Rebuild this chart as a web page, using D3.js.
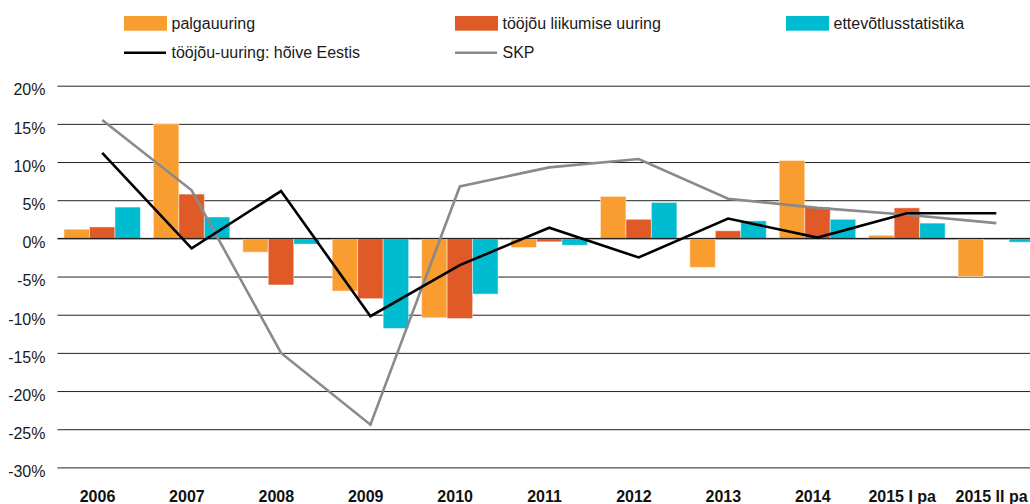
<!DOCTYPE html>
<html>
<head>
<meta charset="utf-8">
<script src="https://cdn.jsdelivr.net/npm/d3@7"></script>
<style>
  html, body { margin: 0; padding: 0; background: #fff; overflow: hidden; }
  svg { display: block; font-family: "Helvetica Neue", Helvetica, "Liberation Sans", Arial, sans-serif; }
</style>
</head>
<body>
<div id="chart"></div>
<script>
const categories = ["2006", "2007", "2008", "2009", "2010", "2011", "2012", "2013", "2014", "2015 I pa", "2015 II pa"];

const palgauuring = [1.2, 15.0, -1.8, -6.9, -10.4, -1.2, 5.5, -3.8, 10.2, 0.4, -5.0];
const liikumiseUuring = [1.5, 5.8, -6.1, -7.9, -10.5, -0.45, 2.5, 1.0, 4.1, 4.0, 0];
const ettevotlus = [4.1, 2.8, -0.75, -11.8, -7.3, -0.9, 4.7, 2.3, 2.5, 2.0, -0.5];
const hoive = [11.2, -1.3, 6.2, -10.2, -3.5, 1.4, -2.5, 2.6, 0.1, 3.3, 3.3];
const skp = [15.5, 6.3, -15.0, -24.4, 6.8, 9.3, 10.4, 5.2, 4.0, 3.1, 2.0];

const yTicks = [20, 15, 10, 5, 0, -5, -10, -15, -20, -25, -30];

const barSeries = [
  { name: "palgauuring", values: palgauuring, color: "#f99d31" },
  { name: "tööjõu liikumise uuring", values: liikumiseUuring, color: "#e05a27" },
  { name: "ettevõtlusstatistika", values: ettevotlus, color: "#00bcd1" }
];
const lineSeries = [
  { name: "tööjõu-uuring: hõive Eestis", values: hoive, color: "#000000" },
  { name: "SKP", values: skp, color: "#8a8a8a" }
];

const width = 1030;
const height = 504;

const margin = {
  top: 85.7,
  bottom: 36.6,
  left: 57.5,
  right: -11
};

const svg = d3.select("#chart")
  .append("svg")
  .attr("width", width)
  .attr("height", height);

const x0 = d3.scaleBand()
  .domain(categories)
  .range([margin.left, width - margin.right])
  .paddingInner(0.145)
  .paddingOuter(0.0725);

const x1 = d3.scaleBand()
  .domain(barSeries.map(s => s.name))
  .range([0, x0.bandwidth()]);

const y = d3.scaleLinear()
  .domain([-30, 20])
  .range([height - margin.bottom, margin.top]);

// grid lines + y labels
const yAxis = d3.axisLeft(y)
  .tickValues(yTicks)
  .tickSize(-(width - margin.left - margin.right))
  .tickFormat(d => d + "%");

const yAxisGroup = svg.append("g")
  .attr("transform", `translate(${margin.left},0)`)
  .call(yAxis);

yAxisGroup.select(".domain").remove();
yAxisGroup.selectAll(".tick line")
  .attr("stroke", "#222")
  .attr("stroke-width", 1);
yAxisGroup.selectAll(".tick text")
  .attr("x", -12)
  .attr("dy", "0.58em")
  .attr("font-size", 16)
  .attr("font-family", null)
  .attr("fill", "#1a1a1a");

// bars
const mainG = svg.append("g");

barSeries.forEach(s => {
  mainG.append("g")
    .selectAll("rect")
    .data(s.values.map((v, i) => ({ cat: categories[i], v })))
    .join("rect")
    .attr("x", d => x0(d.cat) + x1(s.name))
    .attr("width", x1.bandwidth())
    .attr("y", d => y(Math.max(0, d.v)))
    .attr("height", d => Math.abs(y(d.v) - y(0)))
    .attr("fill", s.color)
    .attr("stroke", "#fff")
    .attr("stroke-opacity", 0.45)
    .attr("stroke-width", 1);
});

// zero line back on top of bars
svg.append("line")
  .attr("x1", margin.left)
  .attr("x2", width - margin.right)
  .attr("y1", y(0))
  .attr("y2", y(0))
  .attr("stroke", "#111")
  .attr("stroke-width", 1);

// lines
const line = d3.line()
  .x((d, i) => x0(categories[i]) + x0.bandwidth() / 2)
  .y(d => y(d));

lineSeries.slice().reverse().forEach(s => {
  svg.append("path")
    .datum(s.values)
    .attr("fill", "none")
    .attr("stroke", s.color)
    .attr("stroke-width", 2.6)
    .attr("stroke-linejoin", "miter")
    .attr("d", line);
});

// x labels
const xAxisGroup = svg.append("g");
xAxisGroup.selectAll("text")
  .data(categories)
  .join("text")
  .attr("x", d => x0(d) + x0.bandwidth() / 2 - 4.7)
  .attr("y", 502.3)
  .attr("text-anchor", "middle")
  .attr("font-size", 16)
  .attr("font-weight", "bold")
  .attr("fill", "#111")
  .text(d => d);

// legend
const legend = svg.append("g");
const legendCols = [124, 455, 786];

barSeries.forEach((s, i) => {
  const lx = legendCols[i];
  legend.append("rect")
    .attr("x", lx)
    .attr("y", 16)
    .attr("width", 43)
    .attr("height", 14.7)
    .attr("fill", s.color);
  legend.append("text")
    .attr("x", lx + 47.5)
    .attr("y", 29.3)
    .attr("font-size", 16)
    .attr("fill", "#1a1a1a")
    .text(s.name);
});

lineSeries.forEach((s, i) => {
  const lx = legendCols[i];
  legend.append("line")
    .attr("x1", lx)
    .attr("x2", lx + 42)
    .attr("y1", 52.7)
    .attr("y2", 52.7)
    .attr("stroke", s.color)
    .attr("stroke-width", 2.6);
  legend.append("text")
    .attr("x", lx + 47.5)
    .attr("y", 58.3)
    .attr("font-size", 16)
    .attr("fill", "#1a1a1a")
    .text(s.name);
});
</script>
</body>
</html>
